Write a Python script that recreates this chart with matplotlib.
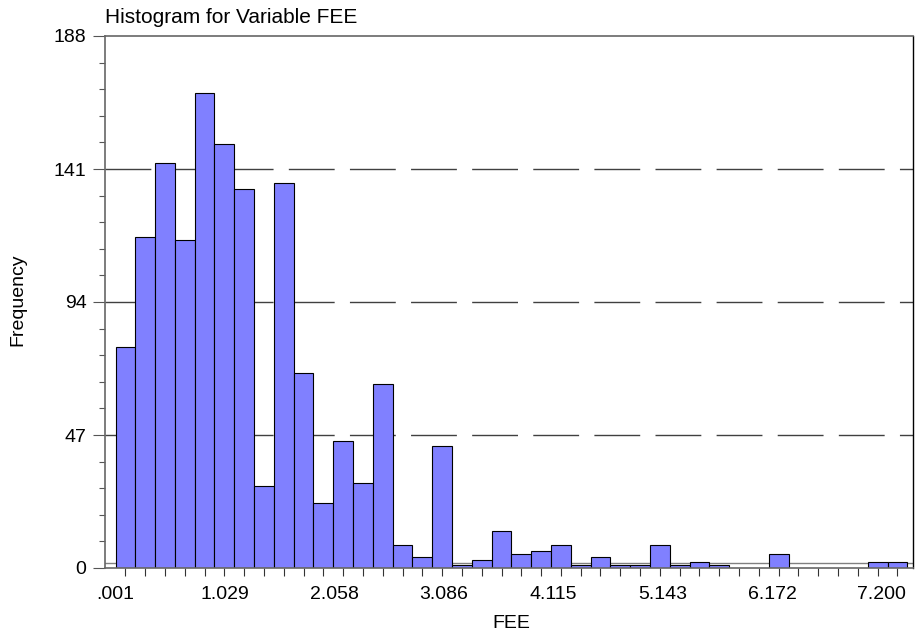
import numpy as np
import matplotlib
matplotlib.use("Agg")
import matplotlib.pyplot as plt
from matplotlib.ticker import MultipleLocator

plt.rcParams['font.family'] = ['Liberation Sans', 'DejaVu Sans']

# histogram of FEE: 40 equal bins between min and max
fee_min = 0.001
fee_max = 7.443
counts = [78, 117, 143, 116, 168, 150, 134, 29, 136, 69,
          23, 45, 30, 65, 8, 4, 43, 1, 3, 13,
          5, 6, 8, 1, 4, 1, 1, 8, 1, 2,
          1, 0, 0, 5, 0, 0, 0, 0, 2, 2]
x_labels = ['.001', '1.029', '2.058', '3.086', '4.115', '5.143', '6.172', '7.200']
y_ticks = [0, 47, 94, 141, 188]

n_bins = len(counts)
width = (fee_max - fee_min) / n_bins
lefts = fee_min + width * np.arange(n_bins)
centers = lefts + width / 2

fig = plt.figure(figsize=(9.15, 6.4), dpi=100)
ax = fig.add_axes([104.5 / 915, 1 - 568 / 640, (913 - 104.5) / 915, (568 - 36) / 640])

px_per_unit = 106.4
ax.set_xlim(fee_min - 11 / px_per_unit, fee_min + (913 - 115.5) / px_per_unit)
ax.set_ylim(0, 188)

# dashed reference lines behind the bars
for y in y_ticks[1:-1]:
    ax.axhline(y, color='#404040', lw=1.0, dashes=(33, 11), zorder=1)
ax.axhline(1.8, color='#808080', lw=1.0, zorder=1)

mask = np.array(counts) > 0
ax.bar(lefts[mask], np.array(counts)[mask], width=width, align='edge',
       color='#8080FF', edgecolor='black', linewidth=0.8, zorder=2)

ax.set_xticks([float(s) for s in x_labels])
ax.set_xticklabels(x_labels)
ax.set_xticks(centers, minor=True)
ax.tick_params(axis='x', which='major', length=0, pad=13, labelsize=14)
ax.tick_params(axis='x', which='minor', length=6, width=0.8, color='#333333')

ax.set_yticks(y_ticks)
ax.yaxis.set_minor_locator(MultipleLocator(9.4))
ax.tick_params(axis='y', which='major', length=9, width=0.8, pad=4, labelsize=14, color='#555555')
ax.tick_params(axis='y', which='minor', length=4.5, width=0.8, color='#555555')

for side in ['left', 'top', 'bottom']:
    ax.spines[side].set_color('#666666')
    ax.spines[side].set_linewidth(1.2)
ax.spines['right'].set_color('black')
ax.spines['right'].set_linewidth(1.0)

fig.text(105 / 915, 1 - 22.7 / 640, 'Histogram for Variable FEE', fontsize=15,
         ha='left', va='baseline')
fig.text(18 / 915, 1 - 300 / 640, 'Frequency', fontsize=14, rotation=90,
         ha='center', va='center')
fig.text(511 / 915, 1 - 624 / 640, 'FEE', fontsize=14, ha='center', va='center')

fig.savefig('out.png', dpi=100)
